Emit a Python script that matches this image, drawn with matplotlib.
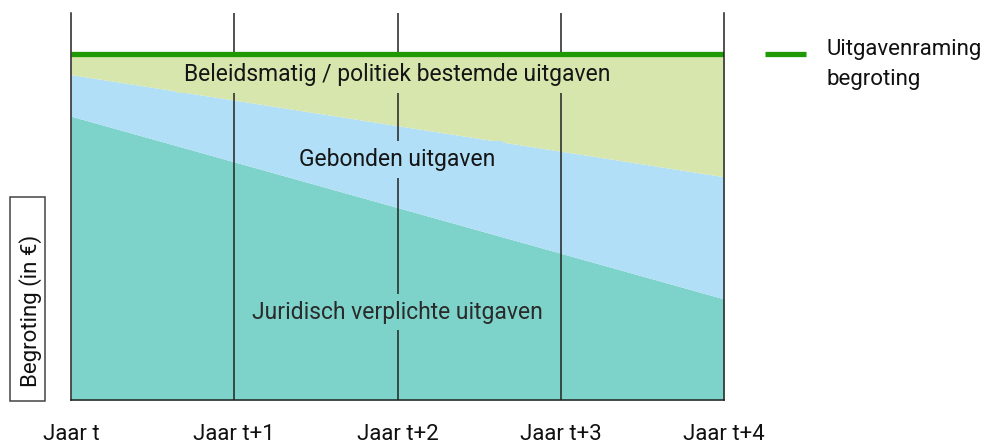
import matplotlib
matplotlib.use("Agg")
import matplotlib.pyplot as plt
from matplotlib.patches import Rectangle
from matplotlib.lines import Line2D

plt.rcParams['font.family'] = ['Roboto', 'DejaVu Sans']

# Data (budget share, budget = 100)
years = [0, 4]
tick_pos = [0, 1, 2, 3, 4]
tick_labels = ["Jaar t", "Jaar t+1", "Jaar t+2", "Jaar t+3", "Jaar t+4"]
juridisch = [82.0, 29.2]          # juridisch verplichte uitgaven
gebonden_top = [94.0, 64.5]       # juridisch + gebonden
budget = [100.0, 100.0]           # uitgavenraming begroting
ymax = 111.8
legend_lines = ["Uitgavenraming", "begroting"]

c_green_band = "#d7e6ac"
c_blue = "#b0dff7"
c_teal = "#7dd2c9"
c_line = "#1f9a06"
c_dark = "#222222"

fig = plt.figure(figsize=(9.86, 4.44), dpi=100)
ax = fig.add_axes([71/986, 44/444, (724-71)/986, (400-13)/444])

ax.fill_between(years, 0, juridisch, color=c_teal, lw=0, zorder=1)
ax.fill_between(years, juridisch, gebonden_top, color=c_blue, lw=0, zorder=1)
ax.fill_between(years, gebonden_top, budget, color=c_green_band, lw=0, zorder=1)

for xp in tick_pos[1:-1]:
    ax.axvline(xp, color=c_dark, lw=1.1, zorder=2)

ax.plot(years, budget, color=c_line, lw=3.8, zorder=4, solid_capstyle='butt')

ax.set_xlim(0, 4)
ax.set_ylim(0, ymax)
ax.set_yticks([])
ax.set_xticks(tick_pos)
ax.set_xticklabels(tick_labels, fontsize=16, color="#111111")
ax.tick_params(axis='x', length=0, pad=17)
for s in ['left', 'right', 'bottom']:
    ax.spines[s].set_color(c_dark)
    ax.spines[s].set_linewidth(1.1)
    ax.spines[s].set_zorder(5)
ax.spines['top'].set_visible(False)

fs = 16.5
ax.text(2, 94.0, "Beleidsmatig / politiek bestemde uitgaven", ha='center', va='center',
        fontsize=fs, color="#151515", zorder=3,
        bbox=dict(boxstyle='square,pad=0.3', fc=c_green_band, ec='none'))
ax.text(2, 69.4, "Gebonden uitgaven", ha='center', va='center',
        fontsize=fs, color="#151515", zorder=3,
        bbox=dict(boxstyle='square,pad=0.3', fc=c_blue, ec='none'))
ax.text(2, 25.4, "Juridisch verplichte uitgaven", ha='center', va='center',
        fontsize=fs, color="#2a2a2a", zorder=3,
        bbox=dict(boxstyle='square,pad=0.3', fc=c_teal, ec='none'))

# legend
fig.add_artist(Line2D([765/986, 806/986], [1-54/444, 1-54/444], color=c_line, lw=3.8,
                      solid_capstyle='butt'))
for txt, base in zip(legend_lines, [55, 85]):
    fig.text(826/986, 1-base/444, txt, ha='left', va='baseline',
             fontsize=16, color="#111111")

# y label box
fig.add_artist(Rectangle((10/986, 1-401/444), 35/986, 204/444, transform=fig.transFigure,
                         fill=False, ec="#444444", lw=1.1))
fig.text(31/986, 1-311/444, "Begroting (in €)", rotation=90, ha='center', va='center',
         fontsize=16, color="#111111")

fig.savefig("out.png", dpi=100)
